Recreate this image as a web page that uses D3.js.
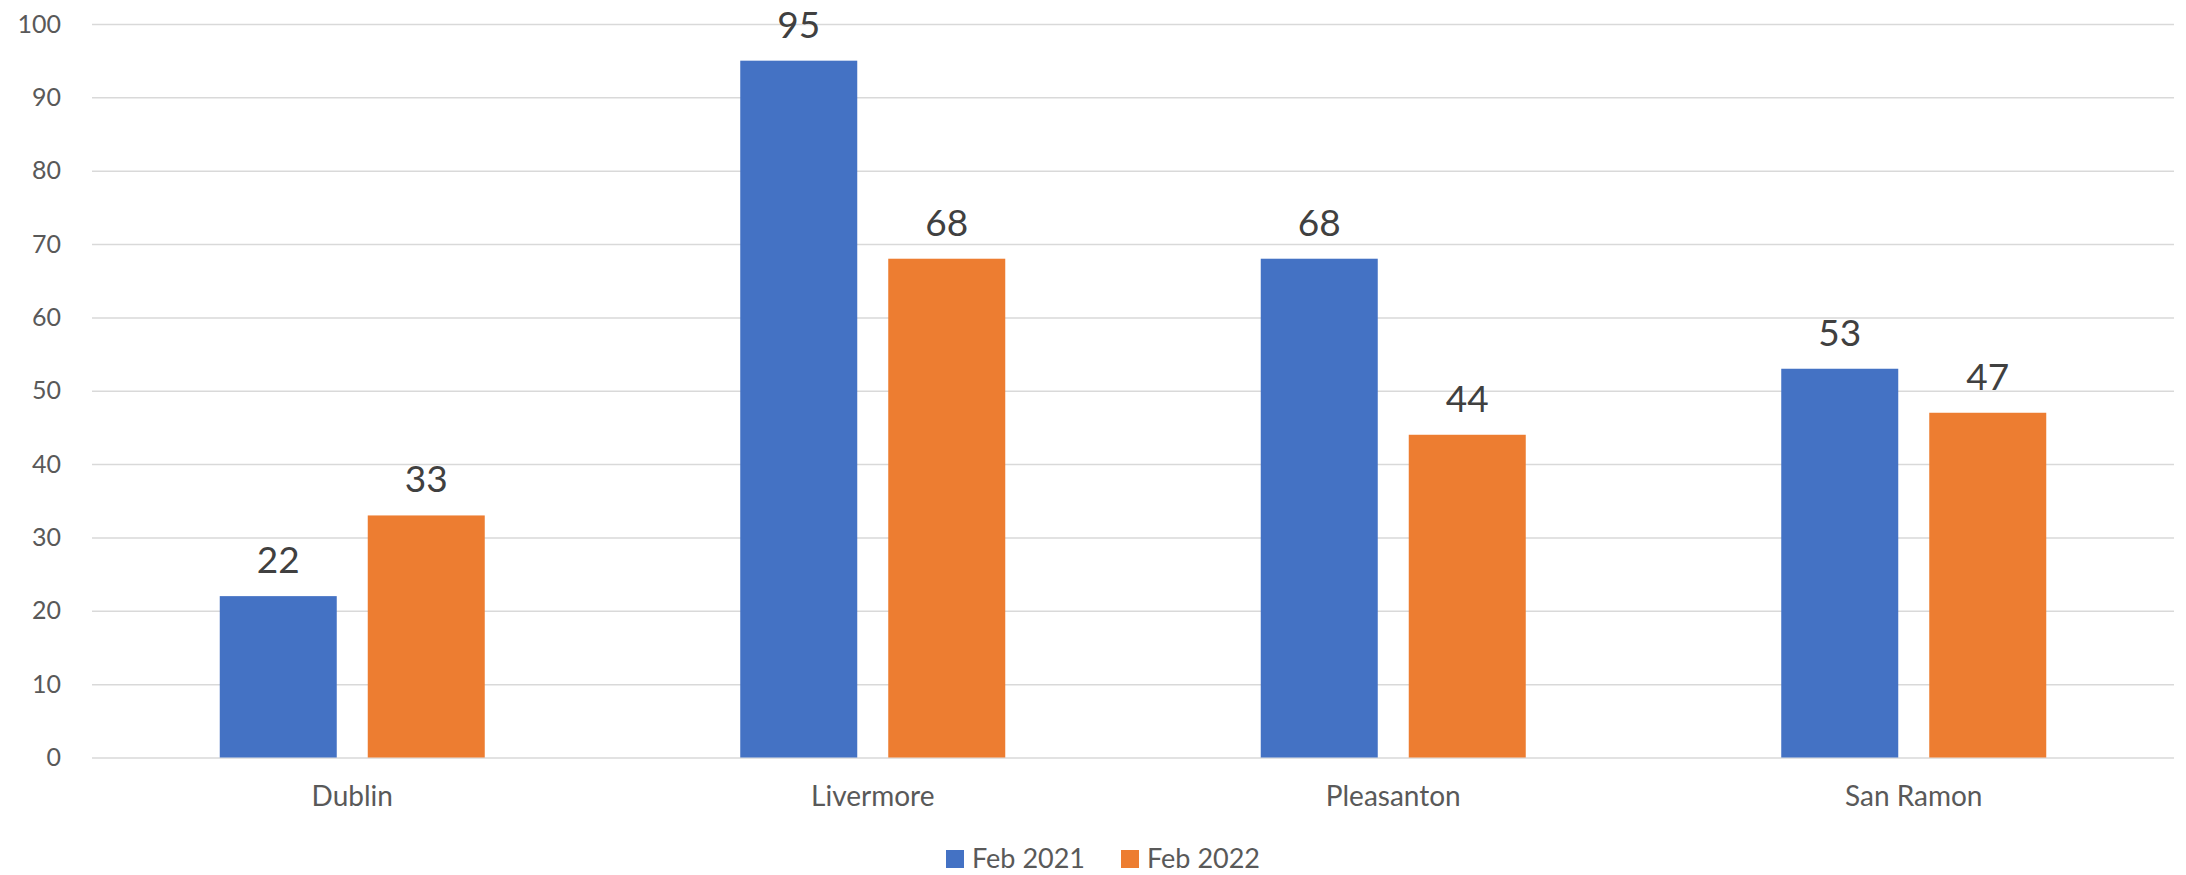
<!DOCTYPE html>
<html>
<head>
<meta charset="utf-8">
<script src="https://cdn.jsdelivr.net/npm/d3@7"></script>
<style>
  html, body { margin: 0; padding: 0; background: #ffffff; }
  svg { display: block; font-family: Lato, "Open Sans", sans-serif; }
</style>
</head>
<body>
<svg id="chart" width="2186" height="875"></svg>
<script>
// Inventory counts by city, February of each year
const cities = ["Dublin", "Livermore", "Pleasanton", "San Ramon"];
const seriesNames = ["Feb 2021", "Feb 2022"];
const feb2021 = [22, 95, 68, 53];
const feb2022 = [33, 68, 44, 47];
const yTicks = [0, 10, 20, 30, 40, 50, 60, 70, 80, 90, 100];
const colors = ["#4472C4", "#ED7D31"];

const seriesValues = [feb2021, feb2022];
const W = 2186, H = 875;
const margin = { left: 92, right: 12, top: 24, bottom: 117.5 };

const svg = d3.select("#chart");

const x = d3.scaleBand()
  .domain(cities)
  .range([margin.left, W - margin.right])
  .paddingInner(0)
  .paddingOuter(0);

const inner = d3.scaleBand()
  .domain(seriesNames)
  .range([0, 265])
  .paddingInner(31 / 148)
  .paddingOuter(0);

const y = d3.scaleLinear()
  .domain([0, 100])
  .range([H - margin.bottom, margin.top]);

// horizontal gridlines + value axis labels
const yAxis = d3.axisLeft(y)
  .tickValues(yTicks)
  .tickSize(-(W - margin.left - margin.right))
  .tickPadding(31)
  .tickFormat(d3.format("d"));

const gy = svg.append("g")
  .attr("transform", `translate(${margin.left},0)`)
  .call(yAxis);
gy.select(".domain").remove();
gy.selectAll(".tick line").attr("stroke", "#d9d9d9").attr("stroke-width", 1.5);
gy.selectAll(".tick text")
  .attr("fill", "#595959")
  .style("font-size", "25px")
  .style("font-family", "Lato, 'Open Sans', sans-serif");

// category axis labels
const xAxis = d3.axisBottom(x).tickSize(0).tickPadding(29);
const gx = svg.append("g")
  .attr("transform", `translate(0,${y(0)})`)
  .call(xAxis);
gx.select(".domain").remove();
gx.selectAll(".tick text")
  .attr("fill", "#595959")
  .style("font-size", "28px")
  .style("font-family", "Lato, 'Open Sans', sans-serif");

// bars
const groups = svg.append("g").selectAll("g")
  .data(cities)
  .join("g")
  .attr("transform", d => `translate(${x(d) + x.bandwidth() / 2 - 132.5},0)`);

seriesNames.forEach((name, si) => {
  groups.append("rect")
    .attr("x", inner(name))
    .attr("width", inner.bandwidth())
    .attr("y", (d, i) => y(seriesValues[si][i]))
    .attr("height", (d, i) => y(0) - y(seriesValues[si][i]))
    .attr("fill", colors[si]);

  groups.append("text")
    .attr("x", inner(name) + inner.bandwidth() / 2)
    .attr("y", (d, i) => y(seriesValues[si][i]) - 23)
    .attr("text-anchor", "middle")
    .attr("fill", "#404040")
    .style("font-size", "37px")
    .text((d, i) => seriesValues[si][i]);
});

// legend
const legendPos = [946, 1121];
const legend = svg.append("g");
seriesNames.forEach((name, i) => {
  legend.append("rect")
    .attr("x", legendPos[i]).attr("y", 850)
    .attr("width", 18).attr("height", 18)
    .attr("fill", colors[i]);
  legend.append("text")
    .attr("x", legendPos[i] + 26).attr("y", 868)
    .attr("fill", "#595959")
    .style("font-size", "27px")
    .text(name);
});
</script>
</body>
</html>
